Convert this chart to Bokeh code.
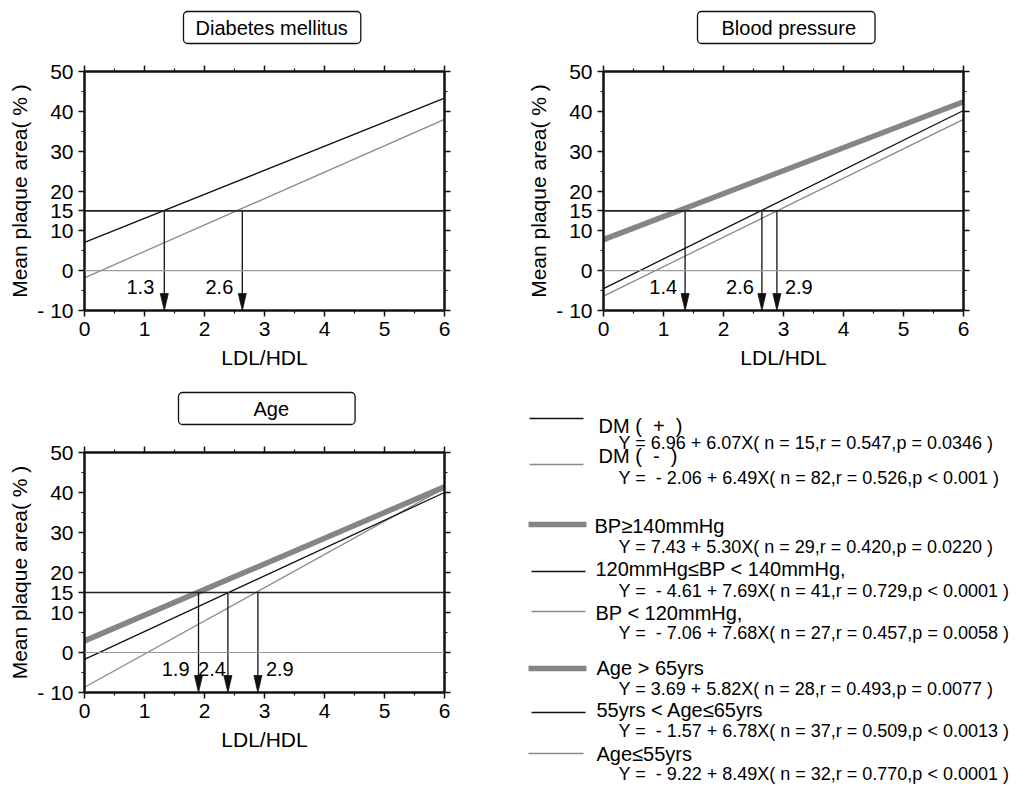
from bokeh.plotting import figure
from bokeh.layouts import column, row
from bokeh.models import Range1d, LinearAxis, FixedTicker, Span
from bokeh.embed import file_html
from bokeh.resources import INLINE
from bokeh.core.properties import value

FONT = "Liberation Sans"
NB = "\u00a0"

# ---------------- data ----------------
x_ends = [0, 6]

dm_pos_y = [7.1, 43.3]      # DM (+)
dm_neg_y = [-1.8, 38.0]     # DM (-)

bp_high_y = [7.8, 42.4]     # BP >= 140
bp_mid_y = [-4.5, 40.2]     # 120 <= BP < 140
bp_low_y = [-6.4, 38.0]     # BP < 120

age_high_y = [2.9, 41.4]    # Age > 65
age_mid_y = [-1.7, 40.0]    # 55 < Age <= 65
age_low_y = [-8.7, 41.1]    # Age <= 55

cutoff_y = 15
zero_y = 0

dm_arrow_x = [1.33, 2.63]
dm_arrow_labels = ["1.3", "2.6"]
bp_arrow_x = [1.36, 2.64, 2.89]
bp_arrow_labels = ["1.4", "2.6", "2.9"]
age_arrow_x = [1.90, 2.39, 2.89]
age_arrow_labels = ["1.9", "2.4", "2.9"]

x_ticks = [0, 1, 2, 3, 4, 5, 6]
x_minor_ticks = [0.5, 1.5, 2.5, 3.5, 4.5, 5.5]
y_ticks = [-10, 0, 10, 15, 20, 30, 40, 50]
y_minor_ticks = [-5, 5, 25, 35, 45]
y_tick_overrides = {-10: "- 10"}

panel_titles = ["Diabetes mellitus", "Blood pressure", "Age"]
x_label = "LDL/HDL"
y_label = "Mean plaque area( % )"

legend_titles = [
    "DM (" + NB + NB + "+" + NB + NB + ")",
    "DM (" + NB + NB + "-" + NB + NB + ")",
    "BP\u2265140mmHg",
    "120mmHg\u2264BP < 140mmHg,",
    "BP < 120mmHg,",
    "Age > 65yrs",
    "55yrs < Age\u226465yrs",
    "Age\u226455yrs",
]
legend_eqs = [
    "Y = 6.96 + 6.07X( n = 15,r = 0.547,p = 0.0346 )",
    "Y =" + NB + NB + "- 2.06 + 6.49X( n = 82,r = 0.526,p < 0.001 )",
    "Y = 7.43 + 5.30X( n = 29,r = 0.420,p = 0.0220 )",
    "Y =" + NB + NB + "- 4.61 + 7.69X( n = 41,r = 0.729,p < 0.0001 )",
    "Y =" + NB + NB + "- 7.06 + 7.68X( n = 27,r = 0.457,p = 0.0058 )",
    "Y = 3.69 + 5.82X( n = 28,r = 0.493,p = 0.0077 )",
    "Y =" + NB + NB + "- 1.57 + 6.78X( n = 37,r = 0.509,p < 0.0013 )",
    "Y =" + NB + NB + "- 9.22 + 8.49X( n = 32,r = 0.770,p < 0.0001 )",
]

# ---------------- styles ----------------
BLACK = "#111111"
GRAY = "#8a8a8a"
THICK_GRAY = "#858585"
THIN_W = 1.3
THICK_W = 5.5

FRAME_W = 360
FRAME_H = 240


def make_panel(width, height, mbl, mbr, mbt, mbb, axis_w, title, title_offset, title_pad):
    p = figure(width=width, height=height, title=title,
               x_range=Range1d(0, 6), y_range=Range1d(-10, 50),
               output_backend="svg", toolbar_location=None,
               min_border_left=mbl, min_border_right=mbr,
               min_border_top=mbt, min_border_bottom=mbb)
    p.grid.visible = False
    p.outline_line_color = None
    p.background_fill_color = "white"
    p.border_fill_color = "white"

    t = p.title
    t.align = "left"
    t.offset = title_offset
    t.standoff = 18
    t.text_font = FONT
    t.text_font_size = "20px"
    t.text_font_style = "normal"
    t.text_color = "black"
    t.background_fill_color = "white"
    t.border_line_color = BLACK
    t.border_line_width = 1.3
    t.border_radius = 4
    t.padding = dict(left=title_pad[0], right=title_pad[1], top=5, bottom=5)

    top_axis = LinearAxis()
    right_axis = LinearAxis()
    p.add_layout(top_axis, "above")
    p.add_layout(right_axis, "right")
    # invisible spacer axis: only reserves room between the frame and the title box
    spacer = LinearAxis(axis_line_color=None, major_tick_line_color=None,
                        minor_tick_line_color=None, major_label_text_color=None,
                        major_tick_in=0, major_tick_out=13, minor_tick_in=0,
                        minor_tick_out=0, major_label_standoff=0)
    p.add_layout(spacer, "above")

    for ax in p.xaxis:
        ax.ticker = FixedTicker(ticks=x_ticks, minor_ticks=x_minor_ticks)
    for ax in p.yaxis:
        ax.ticker = FixedTicker(ticks=y_ticks, minor_ticks=y_minor_ticks)
        ax.major_label_overrides = y_tick_overrides
    for ax in p.axis:
        if ax is spacer:
            continue
        ax.axis_line_width = axis_w
        ax.axis_line_color = BLACK
        ax.major_tick_line_color = BLACK
        ax.minor_tick_line_color = BLACK
        ax.major_tick_line_width = 1.5
        ax.minor_tick_line_width = 1.2
        ax.major_tick_in = 0
        ax.major_tick_out = 6
        ax.minor_tick_in = 0
        ax.minor_tick_out = 3
        ax.major_label_text_font = FONT
        ax.major_label_text_font_size = "21px"
        ax.major_label_text_color = "black"
        ax.axis_label_text_font = FONT
        ax.axis_label_text_font_size = "21px"
        ax.axis_label_text_font_style = "normal"
        ax.axis_label_text_color = "black"
    p.below[0].major_label_standoff = 5
    p.below[0].axis_label = x_label
    p.below[0].axis_label_standoff = 7
    p.left[0].major_label_standoff = 5
    p.left[0].axis_label = y_label
    p.left[0].axis_label_standoff = 3
    for ax in (top_axis, right_axis):
        ax.major_label_text_color = None
        ax.major_label_standoff = 0

    p.add_layout(Span(location=zero_y, dimension="width", line_color="#9a9a9a", line_width=1.2))
    p.add_layout(Span(location=cutoff_y, dimension="width", line_color="#222222", line_width=1.6))
    return p


def add_arrows(p, xs, labels, offsets):
    head_len = 17 * 60 / FRAME_H      # pixels -> data units (y)
    head_hw = 4 * 6 / FRAME_W         # pixels -> data units (x)
    base = -10 + head_len
    p.segment(x0=xs, y0=[cutoff_y] * len(xs), x1=xs, y1=[base] * len(xs),
              line_color=BLACK, line_width=1.3)
    p.patches(xs=[[x - head_hw, x + head_hw, x] for x in xs],
              ys=[[base, base, -10] for _ in xs],
              fill_color=BLACK, line_color=BLACK, line_width=0.8)
    for x, lab, off in zip(xs, labels, offsets):
        p.text(x=[x], y=[-4], text=[lab], x_offset=off,
               text_align="right" if off < 0 else "left", text_baseline="middle",
               text_font=value(FONT), text_font_size="20px", text_color="black")


# ---------------- panel 1: Diabetes ----------------
p1 = make_panel(520, 380, 84, 76, 70, 70, 2.5, panel_titles[0], 99, (12, 13))
p1.line(x_ends, dm_neg_y, line_color=GRAY, line_width=THIN_W)
p1.line(x_ends, dm_pos_y, line_color=BLACK, line_width=THIN_W)
add_arrows(p1, dm_arrow_x, dm_arrow_labels, [-10, -9])

# ---------------- panel 2: Blood pressure ----------------
p2 = make_panel(494, 380, 83, 51, 70, 70, 2.5, panel_titles[1], 94, (24, 19))
p2.line(x_ends, bp_low_y, line_color=GRAY, line_width=THIN_W)
p2.line(x_ends, bp_mid_y, line_color=BLACK, line_width=THIN_W)
p2.line(x_ends, bp_high_y, line_color=THICK_GRAY, line_width=THICK_W)
add_arrows(p2, bp_arrow_x, bp_arrow_labels, [-8, -8, 8])

# ---------------- panel 3: Age ----------------
p3 = make_panel(520, 407, 84, 76, 72, 95, 2.5, panel_titles[2], 94, (75, 66))
p3.line(x_ends, age_low_y, line_color=GRAY, line_width=THIN_W)
p3.line(x_ends, age_mid_y, line_color=BLACK, line_width=THIN_W)
p3.line(x_ends, age_high_y, line_color=THICK_GRAY, line_width=THICK_W)
add_arrows(p3, age_arrow_x, age_arrow_labels, [-9, -2, 8])

# ---------------- legend panel ----------------
LEG_W, LEG_H = 494, 407
leg = figure(width=LEG_W, height=LEG_H, x_range=Range1d(0, LEG_W), y_range=Range1d(LEG_H, 0),
             output_backend="svg", toolbar_location=None,
             x_axis_type=None, y_axis_type=None, min_border=0)
leg.grid.visible = False
leg.outline_line_color = None

leg_line_y = [38, 84, 144, 191, 231, 288, 332, 373]
leg_line_x0 = [9, 9, 8, 11, 11, 8, 11, 8]
leg_line_x1 = [63, 63, 66, 65, 65, 66, 65, 63]
leg_colors = [BLACK, GRAY, THICK_GRAY, BLACK, GRAY, THICK_GRAY, BLACK, GRAY]
leg_widths = [THIN_W, THIN_W, THICK_W, THIN_W, THIN_W, THICK_W, THIN_W, THIN_W]
leg_title_x = [78, 78, 74, 75, 75, 76, 76, 76]
leg_title_y = [45, 75, 145, 188, 232, 287, 329, 373]
leg_eq_x = 98
leg_eq_y = [62, 97, 166, 210, 252, 308, 350, 393]

leg.segment(x0=leg_line_x0, y0=leg_line_y, x1=leg_line_x1, y1=leg_line_y,
            line_color=leg_colors, line_width=leg_widths)
leg.text(x=leg_title_x, y=leg_title_y, text=legend_titles, text_baseline="middle",
         text_align="left", text_font=value(FONT), text_font_size="20px", text_color="black")
leg.text(x=[leg_eq_x] * len(legend_eqs), y=leg_eq_y, text=legend_eqs, text_baseline="middle",
         text_align="left", text_font=value(FONT), text_font_size="18px", text_color="black")

layout = column(row(p1, p2), row(p3, column(leg)))
open("out.html", "w").write(file_html(layout, INLINE))
